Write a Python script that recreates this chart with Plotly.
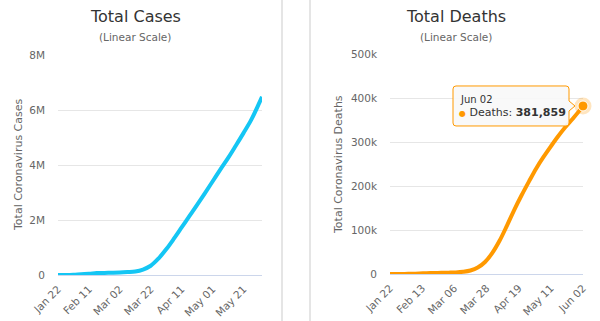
import plotly.graph_objects as go

# Cumulative worldwide totals, Jan 22 - Jun 02 2020
dates = ["2020-01-22", "2020-01-27", "2020-02-01", "2020-02-06", "2020-02-11",
         "2020-02-16", "2020-02-21", "2020-02-26", "2020-03-02", "2020-03-07",
         "2020-03-12", "2020-03-17", "2020-03-22", "2020-03-27", "2020-04-01",
         "2020-04-06", "2020-04-11", "2020-04-16", "2020-04-21", "2020-04-26",
         "2020-05-01", "2020-05-06", "2020-05-11", "2020-05-16", "2020-05-21",
         "2020-05-26", "2020-05-31", "2020-06-02"]
total_cases = [580, 2900, 12000, 31000, 45000, 71000, 77000, 82000, 90000, 106000,
               128000, 199000, 337000, 597000, 933000, 1320000, 1730000, 2140000,
               2550000, 2970000, 3400000, 3830000, 4250000, 4700000, 5160000,
               5640000, 6230000, 6480000]
total_deaths = [17, 82, 259, 565, 1118, 1770, 2250, 2800, 3100, 3560, 4980, 8000,
                14600, 27300, 48000, 76000, 110000, 146000, 179000, 210000, 240000,
                266000, 290000, 313000, 334000, 353000, 373000, 381859]

cases_ticks = ["2020-01-22", "2020-02-11", "2020-03-02", "2020-03-22", "2020-04-11",
               "2020-05-01", "2020-05-21"]
cases_tick_text = ["Jan 22", "Feb 11", "Mar 02", "Mar 22", "Apr 11", "May 01", "May 21"]
deaths_ticks = ["2020-01-22", "2020-02-13", "2020-03-06", "2020-03-28", "2020-04-19",
                "2020-05-11", "2020-06-02"]
deaths_tick_text = ["Jan 22", "Feb 13", "Mar 06", "Mar 28", "Apr 19", "May 11", "Jun 02"]

cases_y_ticks = [0, 2e6, 4e6, 6e6, 8e6]
cases_y_text = ["0", "2M", "4M", "6M", "8M"]
deaths_y_ticks = [0, 1e5, 2e5, 3e5, 4e5, 5e5]
deaths_y_text = ["0", "100k", "200k", "300k", "400k", "500k"]

W, H = 600, 321
FONT = "DejaVu Sans"
CYAN = "#14C6F4"
ORANGE = "#FF9900"
GRID = "#E6E6E6"
LABEL = "#666666"


def px_x(p):
    return p / W


def px_y(p):
    return 1 - p / H


fig = go.Figure()

fig.add_trace(go.Scatter(x=dates, y=total_cases, mode="lines", name="Cases",
                         line=dict(color=CYAN, width=4, shape="spline", smoothing=1.0),
                         xaxis="x", yaxis="y", hoverinfo="skip"))
fig.add_trace(go.Scatter(x=dates, y=total_deaths, mode="lines", name="Deaths",
                         line=dict(color=ORANGE, width=4, shape="spline", smoothing=1.0),
                         xaxis="x2", yaxis="y2", hoverinfo="skip"))

# highlighted last point with halo
last_date, last_val = dates[-1], total_deaths[-1]
fig.add_trace(go.Scatter(x=[last_date], y=[last_val], mode="markers",
                         marker=dict(size=17, color=ORANGE, opacity=0.25),
                         xaxis="x2", yaxis="y2", cliponaxis=False, hoverinfo="skip"))
fig.add_trace(go.Scatter(x=[last_date], y=[last_val], mode="markers",
                         marker=dict(size=10, color=ORANGE, line=dict(color="white", width=1)),
                         xaxis="x2", yaxis="y2", cliponaxis=False, hoverinfo="skip"))

xcommon = dict(type="date", showgrid=False, zeroline=False, showline=True,
               linecolor="#CCD6EB", linewidth=1, ticks="", tickangle=-45,
               automargin=False, ticklabelstandoff=3,
               tickfont=dict(family=FONT, size=10.5, color=LABEL), fixedrange=True)
ycommon = dict(showgrid=True, gridcolor=GRID, gridwidth=1, zeroline=False,
               showline=False, ticks="", ticklabelstandoff=12, automargin=False,
               tickfont=dict(family=FONT, size=10.5, color=LABEL), fixedrange=True)

fig.update_layout(
    width=W, height=H,
    margin=dict(l=0, r=0, t=0, b=0, autoexpand=False),
    paper_bgcolor="white", plot_bgcolor="white",
    showlegend=False,
    xaxis=dict(xcommon, domain=[px_x(58), px_x(262)], anchor="y",
               range=["2020-01-22", "2020-06-02"],
               tickvals=cases_ticks, ticktext=cases_tick_text),
    yaxis=dict(ycommon, domain=[px_y(275), px_y(55)], anchor="x",
               range=[0, 8e6], tickvals=cases_y_ticks, ticktext=cases_y_text),
    xaxis2=dict(xcommon, domain=[px_x(390), px_x(583)], anchor="y2",
                range=["2020-01-22", "2020-06-02"],
                tickvals=deaths_ticks, ticktext=deaths_tick_text),
    yaxis2=dict(ycommon, domain=[px_y(274), px_y(54)], anchor="x2",
                range=[0, 5e5], tickvals=deaths_y_ticks, ticktext=deaths_y_text),
)

# panel separators
for xp in (282, 310):
    fig.add_shape(type="line", xref="paper", yref="paper",
                  x0=px_x(xp), x1=px_x(xp), y0=0, y1=1,
                  line=dict(color="#DDDDDD", width=1.5))

annotations = [
    dict(text="Total Cases", x=px_x(135), y=px_y(16), font=dict(size=16, color="#333333")),
    dict(text="(Linear Scale)", x=px_x(135), y=px_y(37), font=dict(size=10.5, color=LABEL)),
    dict(text="Total Deaths", x=px_x(456), y=px_y(16), font=dict(size=16, color="#333333")),
    dict(text="(Linear Scale)", x=px_x(456), y=px_y(37), font=dict(size=10.5, color=LABEL)),
    dict(text="Total Coronavirus Cases", x=px_x(19), y=px_y(165), textangle=-90,
         font=dict(size=11, color=LABEL)),
    dict(text="Total Coronavirus Deaths", x=px_x(339), y=px_y(164), textangle=-90,
         font=dict(size=11, color=LABEL)),
]
for a in annotations:
    a.update(xref="paper", yref="paper", showarrow=False, xanchor="center", yanchor="middle")
    a["font"]["family"] = FONT
    fig.add_annotation(**a)

# tooltip callout anchored to the last point (offsets in pixels, y up)
r = 3
box = (f"M {-130 + r},20 L {-14 - r},20 Q -14,20 -14,{20 - r} "
       f"L -14,5 L -8,0 L -14,-5 "
       f"L -14,{-20 + r} Q -14,-20 {-14 - r},-20 "
       f"L {-130 + r},-20 Q -130,-20 -130,{-20 + r} "
       f"L -130,{20 - r} Q -130,20 {-130 + r},20 Z")
fig.add_shape(type="path", xref="x2", yref="y2", xsizemode="pixel", ysizemode="pixel",
              xanchor=last_date, yanchor=last_val, path=box,
              fillcolor="rgba(249,249,249,0.92)", line=dict(color=ORANGE, width=1))

fig.add_annotation(xref="x2", yref="y2", x=last_date, y=last_val, showarrow=False,
                   xanchor="left", yanchor="middle", xshift=-125, yshift=6,
                   text="Jun 02", font=dict(family=FONT, size=10, color="#333333"))
fig.add_annotation(xref="x2", yref="y2", x=last_date, y=last_val, showarrow=False,
                   xanchor="left", yanchor="middle", xshift=-126, yshift=-7,
                   text=(f"<span style='color:{ORANGE};font-size:8px'>●</span> "
                         f"Deaths: <b>{last_val:,}</b>"),
                   font=dict(family=FONT, size=11, color="#333333"))

fig.write_html("out.html")
